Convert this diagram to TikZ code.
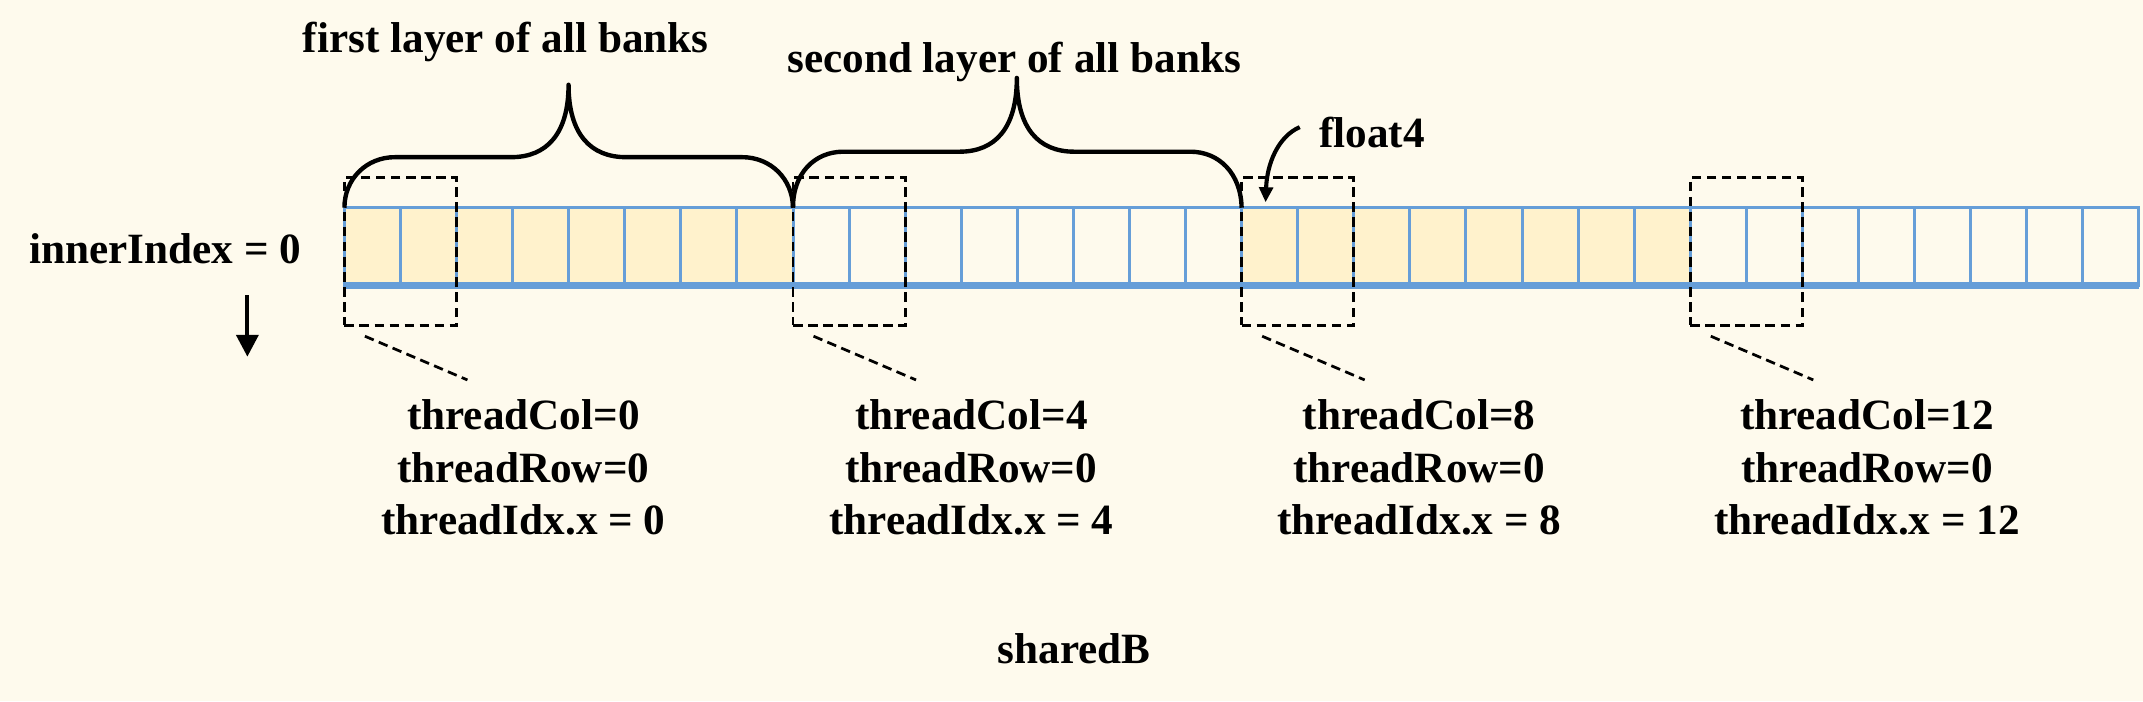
\documentclass[tikz,border=0pt]{standalone}
\usepackage{fontspec}
\setmainfont{Liberation Serif}
\usetikzlibrary{arrows.meta}

\definecolor{paper}{RGB}{254,250,237}
\definecolor{bankfill}{RGB}{255,242,204}
\definecolor{bankline}{RGB}{102,158,216}

\begin{document}
\begin{tikzpicture}[x=0.5pt,y=-0.5pt,
  every node/.style={font=\fontsize{15.8}{19.3}\selectfont\bfseries},
  cell/.style={draw=bankline,line width=1.1pt,minimum width=20.5pt,
    minimum height=28.5pt,inner sep=0pt,outer sep=0pt},
  group/.style={draw,line width=1pt,dash pattern=on 3.5pt off 2pt,
    minimum width=41pt,minimum height=54pt,inner sep=0pt},
  brace/.style={line width=1.6pt,line join=round}]
\fill[paper] (0,0) rectangle (1568,513);
\useasboundingbox (0,0) rectangle (1568,513);

% the 32 banks of sharedB
\foreach \i in {0,...,31} {
  \pgfmathtruncatemacro\layer{\i/8}
  \ifodd\layer \def\cellcol{paper}\else\def\cellcol{bankfill}\fi
  \node[cell,fill=\cellcol] (c\i) at ({252+41.03*(\i+0.5)},180.5) {};
}
\draw[bankline,line width=2.3pt] (c0.south west) -- (c31.south east);

% float4 groups and their threads
\foreach \k/\t in {0/0,1/4,2/8,3/12} {
  \node[group] (g\k) at ({252+41.03*(8*\k+1)},184) {};
  \coordinate (s\k) at ({267+328.25*\k},246);
  \coordinate (e\k) at ({342+328.25*\k},278);
  \draw[line width=1pt,dash pattern=on 3.5pt off 2pt] (s\k) -- (e\k);
  \node[align=center] (lbl\k) at ({383+327.7*\k},342)
    {threadCol=\t\\threadRow=0\\threadIdx.x = \t};
}

% layers
\node (first) at (370,31) {first layer of all banks};
\node (second) at (742,45) {second layer of all banks};
\draw[brace] (c0.north west) .. controls (252,131) and (268,115) .. (289,115)
  -- (374,115) .. controls (400,115) and (416,98) .. (416,62)
  .. controls (416,98) and (432,115) .. (458,115) -- (543,115)
  .. controls (564,115) and (580,131) .. (c7.north east);
\draw[brace] (c8.north west) .. controls (580,127) and (596,111) .. (617,111)
  -- (702,111) .. controls (728,111) and (744,94) .. (744,57)
  .. controls (744,94) and (760,111) .. (786,111) -- (871,111)
  .. controls (892,111) and (908,127) .. (c15.north east);

\node (float) at (1004,97) {float4};
\coordinate (fstart) at (951,93);
\draw[line width=1.5pt,-{Triangle[length=5.5pt,width=5pt]}] (fstart)
  .. controls (935,100) and (927,120) .. (926,148);

\node (inner) at (121,182) {innerIndex = 0};
\coordinate (dtop) at (181,216);
\coordinate (dbot) at (181,261);
\draw[line width=1.5pt,-{Triangle[length=8pt,width=8pt]}] (dtop) -- (dbot);

\node (shared) at (786,475) {sharedB};
\end{tikzpicture}
\end{document}
